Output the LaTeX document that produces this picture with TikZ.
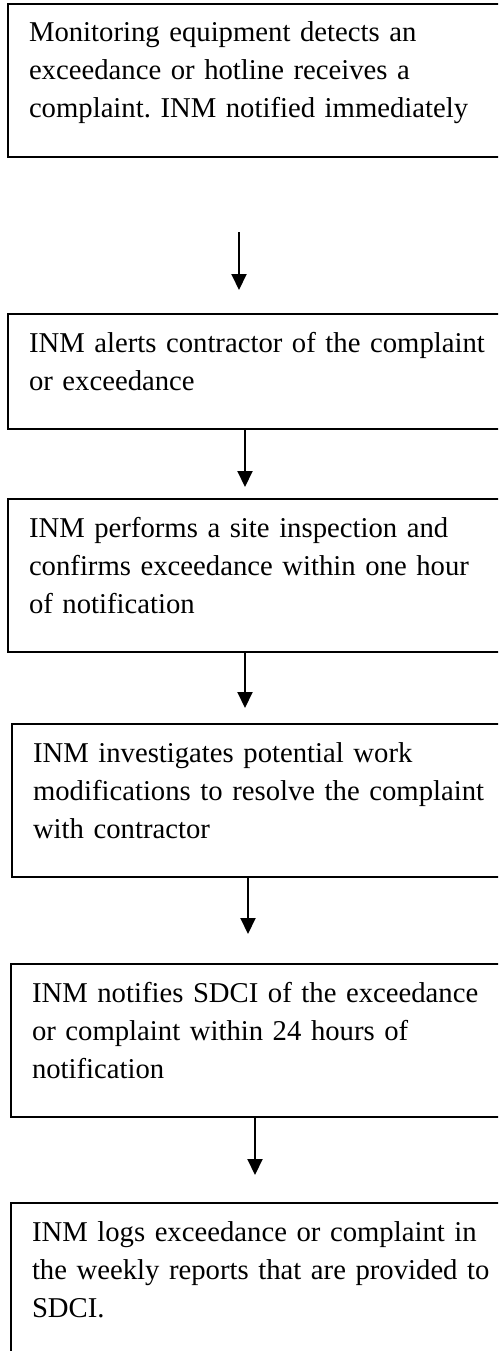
\documentclass[tikz,border=0pt]{standalone}
\usepackage{fontspec}
\setmainfont{Liberation Serif}
\usetikzlibrary{arrows.meta}
\setlength{\parindent}{0pt}
\frenchspacing

\begin{document}
\begin{tikzpicture}[x=1pt,y=1pt]
		\tikzstyle{StepBox}=[draw,line width=2pt,anchor=north west,text width=480pt,align=left,
			inner xsep=21pt,inner ysep=0pt,font=\fontsize{28.7}{38}\selectfont,
			execute at begin node={\rule{0pt}{38pt}},execute at end node={\rule[-39pt]{0pt}{39pt}}]
		\tikzstyle{FlowArrow}=[line width=2pt,-{Triangle[width=15pt,length=16pt]}]
		\useasboundingbox (0,0) rectangle (498,-1351);
		\clip (0,0) rectangle (498,-1351);
		% steps
		\node[StepBox] (Detect) at (7,-3) {Monitoring equipment detects an\\exceedance or hotline receives a\\complaint. INM notified immediately};
		\node[StepBox] (Alert) at (7,-313) {INM alerts contractor of the complaint\\or exceedance};
		\node[StepBox] (Inspect) at (7,-498) {INM performs a site inspection and\\confirms exceedance within one hour\\of notification};
		\node[StepBox] (Investigate) at (11,-723) {INM investigates potential work\\modifications to resolve the complaint\\with contractor};
		\node[StepBox] (Notify) at (10,-963) {INM notifies SDCI of the exceedance\\or complaint within 24 hours of\\notification};
		\node[StepBox] (Log) at (10,-1202) {INM logs exceedance or complaint in\\the weekly reports that are provided to\\SDCI.};
		% first arrow floats between the boxes
		\coordinate (FirstTail) at (239,-232);
		\coordinate (FirstTip) at (239,-290);
		\draw[FlowArrow] (FirstTail) -- (FirstTip);
		\draw[FlowArrow] ([xshift=238pt]Alert.south west) -- ++(0,-57);
		\draw[FlowArrow] ([xshift=238pt]Inspect.south west) -- ++(0,-55);
		\draw[FlowArrow] ([xshift=237pt]Investigate.south west) -- ++(0,-56);
		\draw[FlowArrow] ([xshift=245pt]Notify.south west) -- ++(0,-57);
		%  \draw[FlowArrow] (Notify) -- (Log);
	\end{tikzpicture}
\end{document}
